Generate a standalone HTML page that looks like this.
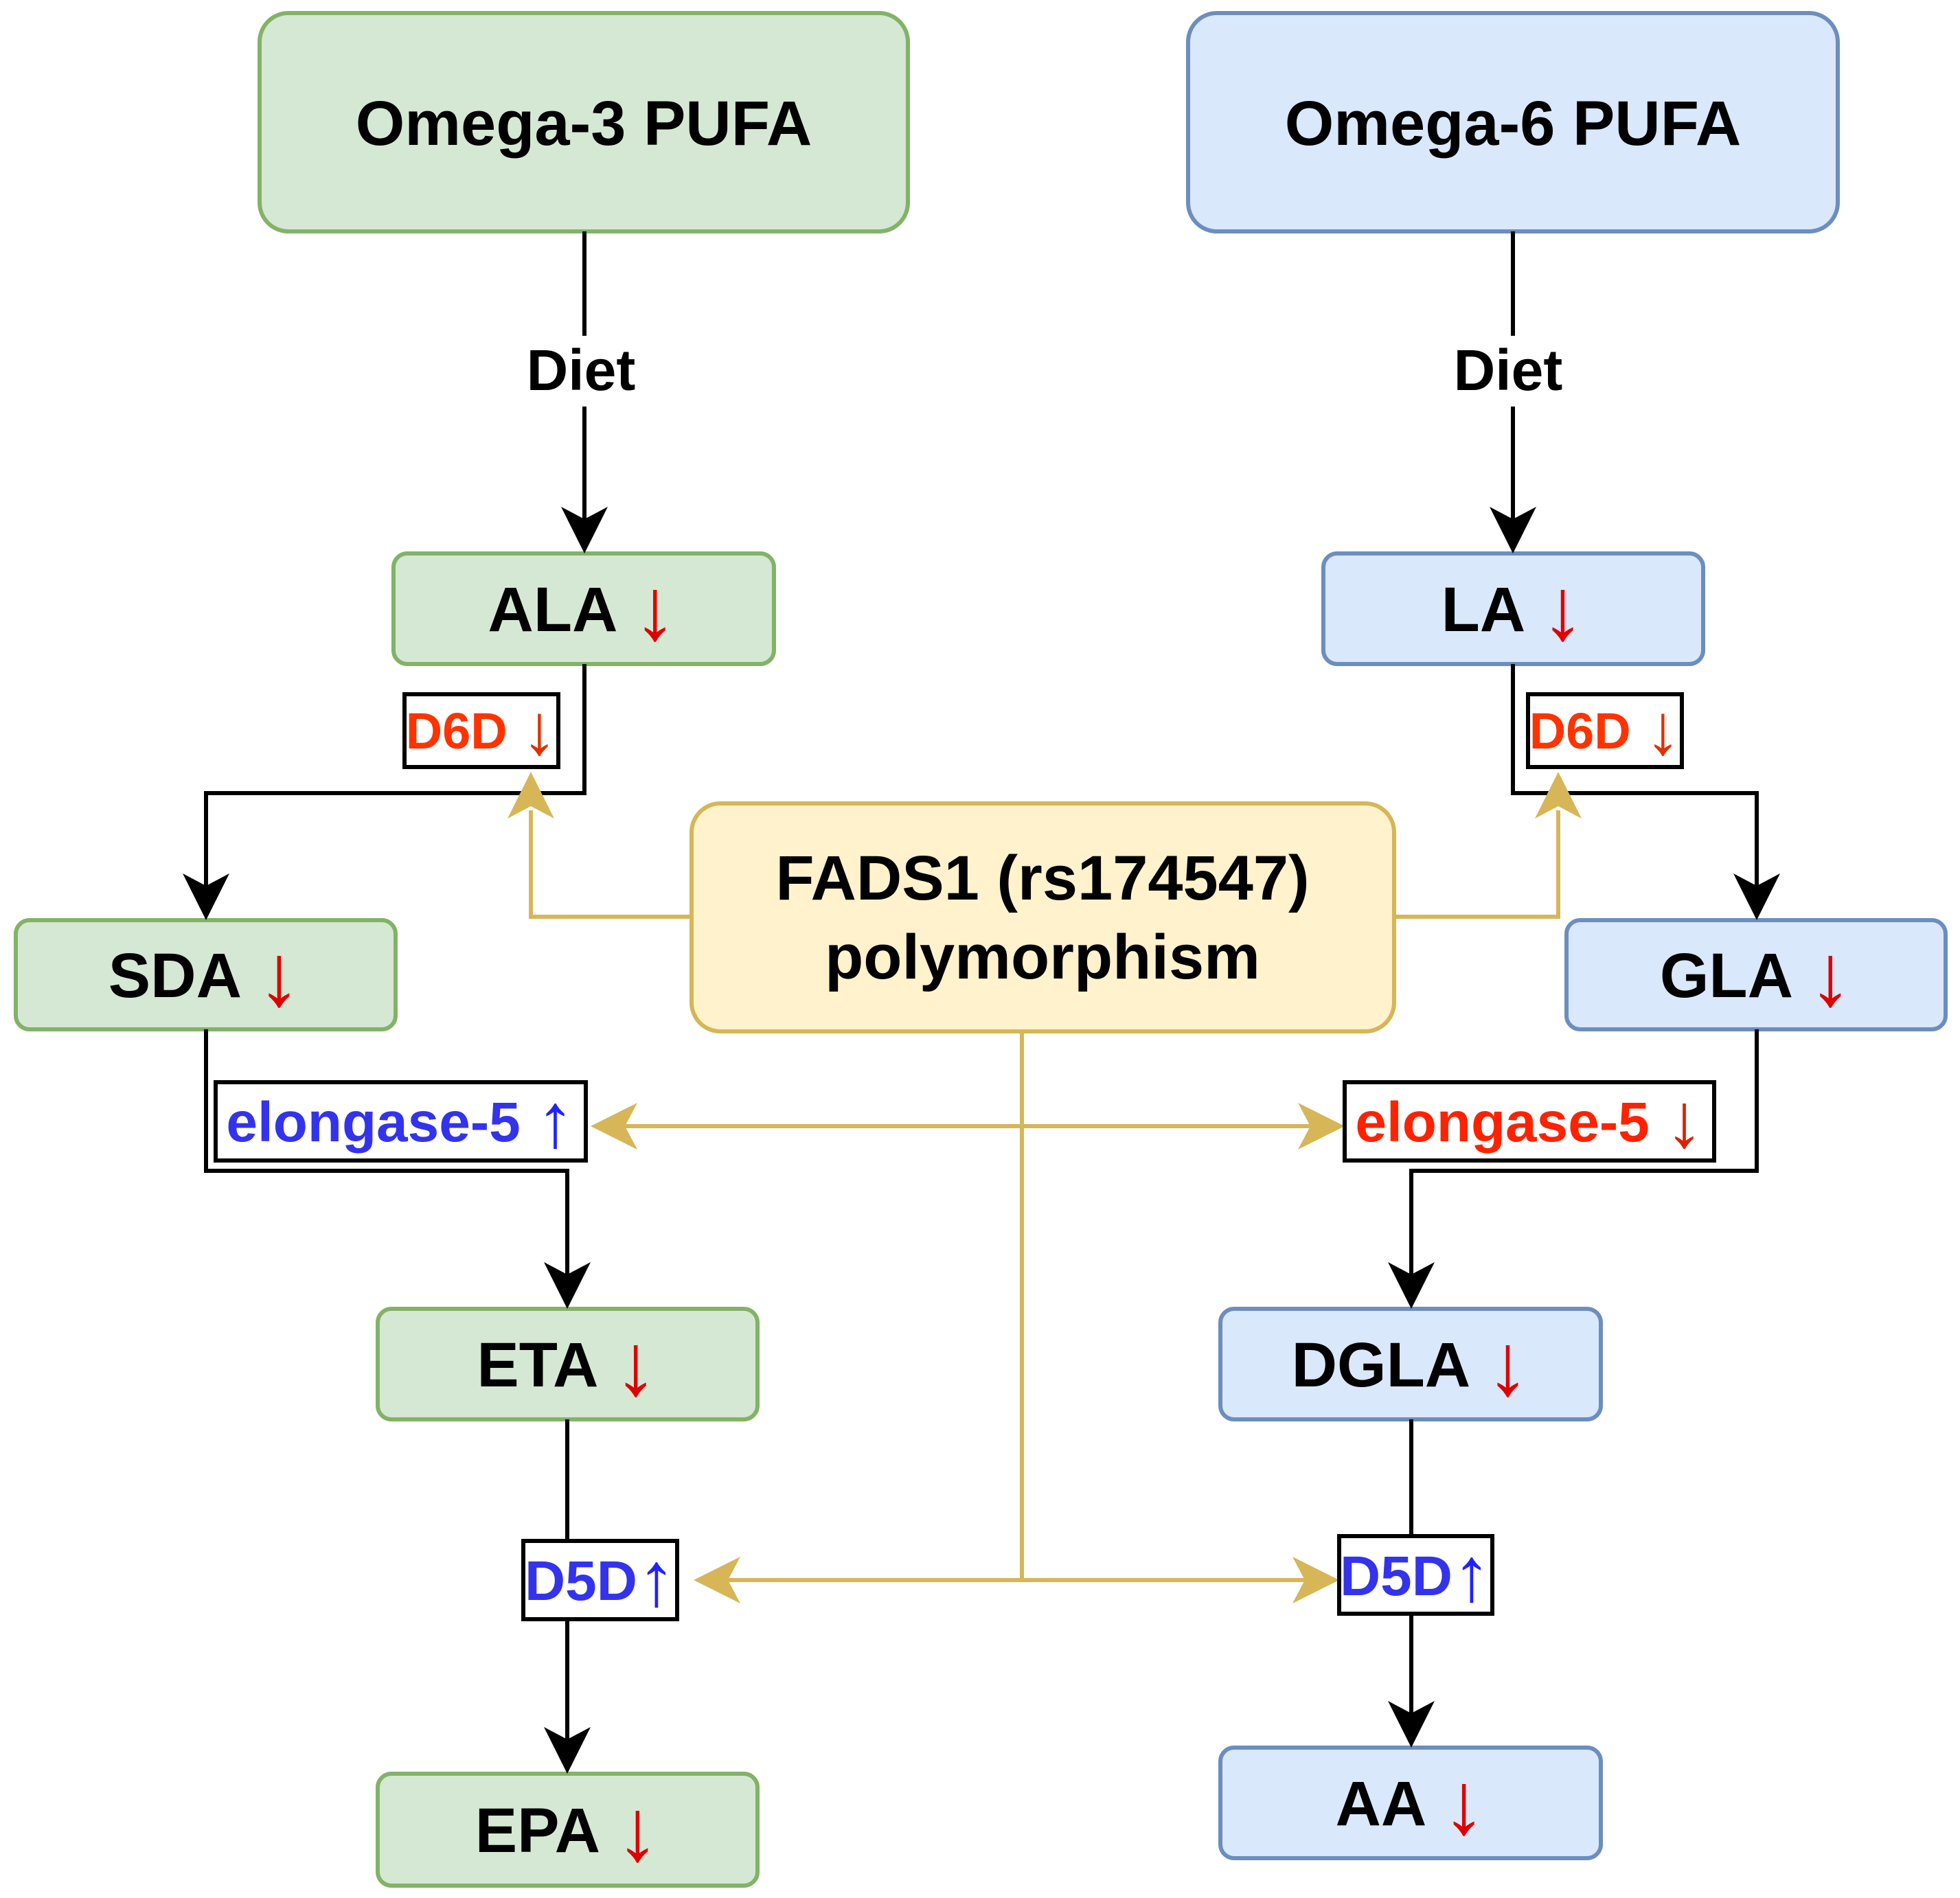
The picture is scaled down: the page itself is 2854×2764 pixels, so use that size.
<!DOCTYPE html>
<html><head><meta charset="utf-8"><style>
html,body{margin:0;padding:0;background:#fff;}
svg{display:block;}
text{font-family:"Liberation Sans",Arial,sans-serif;font-weight:bold;text-anchor:middle;}
.ar{font-weight:normal;}
</style></head><body>
<svg width="2854" height="2764" viewBox="0 0 2854 2764" xmlns="http://www.w3.org/2000/svg">
<!-- boxes green -->
<g fill="#d5e8d4" stroke="#82b366" stroke-width="6">
<rect x="378" y="19" width="944" height="318" rx="42"/>
<rect x="573" y="806" width="554" height="161" rx="20"/>
<rect x="23" y="1340" width="553" height="159" rx="20"/>
<rect x="550" y="1906" width="553" height="161" rx="20"/>
<rect x="550" y="2583" width="553" height="163" rx="20"/>
</g>
<g fill="#dae8fc" stroke="#6c8ebf" stroke-width="6">
<rect x="1730" y="19" width="946" height="318" rx="42"/>
<rect x="1927" y="806" width="553" height="161" rx="20"/>
<rect x="2281" y="1340" width="552" height="159" rx="20"/>
<rect x="1777" y="1906" width="554" height="161" rx="20"/>
<rect x="1777" y="2545" width="554" height="161" rx="20"/>
</g>
<rect x="1007" y="1170" width="1023" height="332" rx="42" fill="#fff2cc" stroke="#d6b656" stroke-width="6"/>

<!-- black connectors -->
<g fill="none" stroke="#000" stroke-width="6">
<path d="M851,337 V489 M851,592 V770"/>
<path d="M851,967 V1155 H300 V1300"/>
<path d="M300,1499 V1705 H826 V1870"/>
<path d="M826,2067 V2244 M826,2358 V2545"/>
<path d="M2203,337 V489 M2203,592 V770"/>
<path d="M2203,967 V1155 H2558 V1300"/>
<path d="M2558,1499 V1705 H2055 V1870"/>
<path d="M2055,2067 V2237 M2055,2350 V2510"/>
</g>
<g fill="#000">
<path d="M851,806 l-34,-68 l34,18 l34,-18z"/>
<path d="M300,1340 l-34,-68 l34,18 l34,-18z"/>
<path d="M826,1906 l-34,-68 l34,18 l34,-18z"/>
<path d="M826,2583 l-34,-68 l34,18 l34,-18z"/>
<path d="M2203,806 l-34,-68 l34,18 l34,-18z"/>
<path d="M2558,1340 l-34,-68 l34,18 l34,-18z"/>
<path d="M2055,1906 l-34,-68 l34,18 l34,-18z"/>
<path d="M2055,2545 l-34,-68 l34,18 l34,-18z"/>
</g>

<!-- gold connectors -->
<g fill="none" stroke="#d6b656" stroke-width="6">
<path d="M1007,1335 H773 V1180"/>
<path d="M2030,1335 H2269 V1180"/>
<path d="M1488,1502 V2301"/>
<path d="M910,1640 H1910"/>
<path d="M1060,2301 H1900"/>
</g>
<g fill="#d6b656">
<path d="M773,1124 l-34,68 l34,-18 l34,18z"/>
<path d="M2269,1124 l-34,68 l34,-18 l34,18z"/>
<path d="M860,1640 l68,-34 l-18,34 l18,34z"/>
<path d="M1958,1640 l-68,-34 l18,34 l-18,34z"/>
<path d="M1010,2301 l68,-34 l-18,34 l18,34z"/>
<path d="M1950,2301 l-68,-34 l18,34 l-18,34z"/>
</g>

<!-- enzyme boxes -->
<g fill="#fff" stroke="#000" stroke-width="6">
<rect x="589" y="1011" width="224" height="106"/>
<rect x="2225" y="1011" width="224" height="106"/>
<rect x="314" y="1576" width="539" height="114"/>
<rect x="1958" y="1576" width="538" height="114"/>
<rect x="762" y="2244" width="224" height="114"/>
<rect x="1950" y="2237" width="223" height="113"/>
</g>

<!-- labels -->
<g font-size="92" fill="#000">
<text x="850" y="211">Omega-3 PUFA</text>
<text x="2203" y="211">Omega-6 PUFA</text>
<text x="1518" y="1310">FADS1 (rs174547)</text>
<text x="1518" y="1425">polymorphism</text>
<text x="848" y="919">ALA <tspan class="ar" fill="#e00000" font-size="128" dy="12">↓</tspan></text>
<text x="298" y="1452">SDA <tspan class="ar" fill="#e00000" font-size="128" dy="12">↓</tspan></text>
<text x="826" y="2019">ETA <tspan class="ar" fill="#e00000" font-size="128" dy="12">↓</tspan></text>
<text x="826" y="2697">EPA <tspan class="ar" fill="#e00000" font-size="128" dy="12">↓</tspan></text>
<text x="2203" y="919">LA <tspan class="ar" fill="#e00000" font-size="128" dy="12">↓</tspan></text>
<text x="2557" y="1452">GLA <tspan class="ar" fill="#e00000" font-size="128" dy="12">↓</tspan></text>
<text x="2054" y="2019">DGLA <tspan class="ar" fill="#e00000" font-size="128" dy="12">↓</tspan></text>
<text x="2054" y="2658">AA <tspan class="ar" fill="#e00000" font-size="128" dy="12">↓</tspan></text>
</g>
<g font-size="84" fill="#000">
<text x="846" y="568">Diet</text>
<text x="2196" y="568">Diet</text>
</g>
<g font-size="74">
<text x="701" y="1090" fill="#ff3300">D6D <tspan class="ar" fill="#e03000" font-size="104" dy="8">↓</tspan></text>
<text x="2337" y="1090" fill="#ff3300">D6D <tspan class="ar" fill="#e03000" font-size="104" dy="8">↓</tspan></text>
</g>
<g font-size="82">
<text x="583" y="1662" fill="#3333ee">elongase-5 <tspan class="ar" fill="#2222ff" font-size="112" dy="8">↑</tspan></text>
<text x="2227" y="1662" fill="#ff2200">elongase-5 <tspan class="ar" fill="#e02000" font-size="112" dy="8">↓</tspan></text>
<text x="874" y="2330" fill="#3333ee">D5D<tspan class="ar" fill="#2222ff" font-size="112" dy="8">↑</tspan></text>
<text x="2061" y="2323" fill="#3333ee">D5D<tspan class="ar" fill="#2222ff" font-size="112" dy="8">↑</tspan></text>
</g>
</svg>
</body></html>
